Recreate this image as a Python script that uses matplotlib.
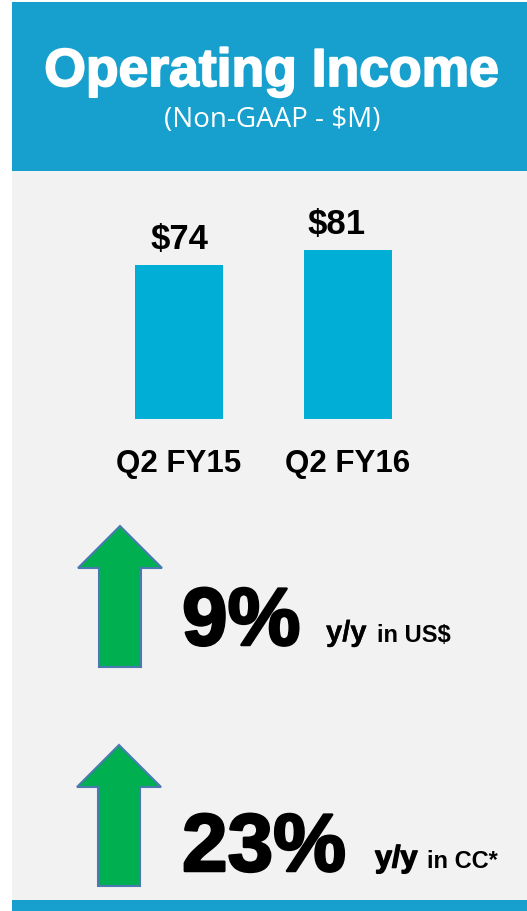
import matplotlib
matplotlib.use("Agg")
import matplotlib.pyplot as plt
import matplotlib.patches as patches
import matplotlib.patheffects as pe
from matplotlib import font_manager as fm

# data
quarters = ["Q2 FY15", "Q2 FY16"]
income = [74, 81]
growth = [9, 23]
growth_notes = [("y/y", "in US$"), ("y/y", "in CC*")]

title = "Operating Income"
subtitle = "(Non-GAAP - $M)"

W, H = 527, 912
header_blue = "#17A0CE"
bar_blue = "#00AED6"
panel_gray = "#F2F2F2"
arrow_green = "#00B050"
arrow_edge = "#4A7AB0"


def pick(*names):
    for n in names:
        try:
            fm.findfont(fm.FontProperties(family=n), fallback_to_default=False)
            return n
        except ValueError:
            continue
    return "DejaVu Sans"


heavy = pick("Liberation Sans", "DejaVu Sans")
light = pick("Open Sans", "DejaVu Sans")

fig = plt.figure(figsize=(W / 100, H / 100), dpi=100)
fig.patch.set_facecolor("white")

# background in pixel coords
bg = fig.add_axes([0, 0, 1, 1])
bg.set_xlim(0, W)
bg.set_ylim(H, 0)
bg.axis("off")
bg.add_patch(patches.Rectangle((12, 3), W - 12, 169, color=header_blue, lw=0))
bg.add_patch(patches.Rectangle((12, 172), W - 12, 729, color=panel_gray, lw=0))
bg.add_patch(patches.Rectangle((12, 901), W - 12, 11, color=header_blue, lw=0))

fat = [pe.withStroke(linewidth=1.3, foreground="white")]
bg.text(272, 87, title, color="white", fontsize=38.5, fontweight="bold",
        family=heavy, ha="center", va="baseline", path_effects=fat)
bg.text(272, 127, subtitle, color="white", fontsize=20, family=light,
        ha="center", va="baseline")

# bars
base_px, top_px = 420, 200
scale = 2.085
ax = fig.add_axes([94.5 / W, (H - base_px) / H, 338 / W, (base_px - top_px) / H])
ax.set_facecolor("none")
ax.bar(range(len(quarters)), income, width=0.52, color=bar_blue)
ax.set_xlim(-0.5, 1.5)
ax.set_ylim(0, (base_px - top_px) / scale)
for s in ax.spines.values():
    s.set_visible(False)
ax.set_yticks([])
ax.set_xticks(range(len(quarters)))
ax.set_xticklabels(quarters, fontsize=22.5, fontweight="bold", family=heavy)
ax.tick_params(axis="x", length=0, pad=21)
label_shift = [0, -8]
for i, v in enumerate(income):
    ax.annotate(f"${v}", (i, v), xytext=(label_shift[i], 7),
                textcoords="offset points", ha="center", va="bottom",
                fontsize=25, fontweight="bold", family=heavy)

# growth arrows and text
arrow_rows = [(527, 569, 668, 120), (746, 788, 887, 119)]
note_x = [(326, 377), (375, 427)]
baselines = [646, 872]
for k, g in enumerate(growth):
    tip, hb, bot, cx = arrow_rows[k]
    pts = [(cx, tip), (cx + 42, hb), (cx + 21, hb), (cx + 21, bot),
           (cx - 21, bot), (cx - 21, hb), (cx - 42, hb)]
    bg.add_patch(patches.Polygon(pts, closed=True, facecolor=arrow_green,
                                 edgecolor=arrow_edge, lw=1.5))
    black_fat = [pe.withStroke(linewidth=1.8, foreground="black")]
    bg.text(182, baselines[k], f"{g}%", fontsize=59, fontweight="bold",
            family=heavy, ha="left", va="baseline", path_effects=black_fat)
    yy, rest = growth_notes[k]
    yy_fx = [pe.withStroke(linewidth=1.0 if k == 1 else 0.2, foreground="black")]
    bg.text(note_x[k][0], baselines[k] - 4, yy, fontsize=21 if k == 0 else 22,
            fontweight="bold", family=heavy, ha="left", va="baseline",
            path_effects=yy_fx)
    bg.text(note_x[k][1], baselines[k] - 4, rest, fontsize=17,
            fontweight="bold", family=heavy, ha="left", va="baseline")

fig.savefig("out.png", dpi=100)
